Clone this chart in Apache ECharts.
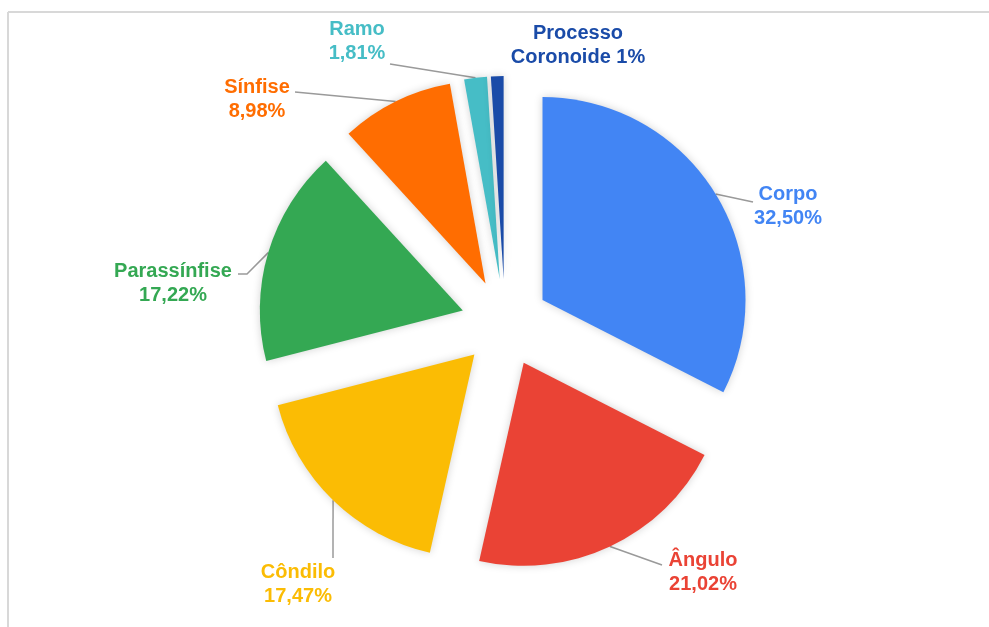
<!DOCTYPE html>
<html>
<head>
<meta charset="utf-8">
<script src="https://cdn.jsdelivr.net/npm/echarts@6/dist/echarts.min.js"></script>
<style>html,body{margin:0;padding:0;background:#fff}#c{width:989px;height:627px}</style>
</head>
<body>
<div id="c"></div>
<script>
// ---- data ----
const categories = ['Corpo', 'Ângulo', 'Côndilo', 'Parassínfise', 'Sínfise', 'Ramo', 'Processo Coronoide'];
const values = [32.50, 21.02, 17.47, 17.22, 8.98, 1.81, 1];

// ---- styles / layout ----
const colors = ['#4285F4', '#EA4335', '#FBBC04', '#34A853', '#FF6D01', '#46BDC6', '#1A4BA8'];
const CENTER = [505, 323];
const RADIUS = 203;
const EXPLODE = 44;
// label block centre, optional bend point and end of leader line
const labelPlace = [
  { x: 788, y: 206, pts: [[753, 202]] },
  { x: 703, y: 572, pts: [[662, 565]] },
  { x: 298, y: 584, pts: [[333, 558]] },
  { x: 173, y: 283, pts: [[247, 274], [238, 274]] },
  { x: 257, y: 99,  pts: [[295, 92]] },
  { x: 357, y: 41,  pts: [[390, 64]] },
  { x: 578, y: 45,  pts: null }
];

function fmtPct(v) {
  const s = (v === Math.round(v)) ? String(v) : v.toFixed(2).replace('.', ',');
  return s + '%';
}
function labelText(name, v) {
  const sp = name.indexOf(' ');
  if (sp > 0) return name.slice(0, sp) + '\n' + name.slice(sp + 1) + ' ' + fmtPct(v);
  return name + '\n' + fmtPct(v);
}

const total = values.reduce((a, b) => a + b, 0);
const mids = [];
let start = 90;
values.forEach(v => {
  const span = v / total * 360;
  mids.push(start - span / 2);
  start -= span;
});

const series = categories.map((cat, i) => {
  const rad = mids[i] * Math.PI / 180;
  const cx = CENTER[0] + EXPLODE * Math.cos(rad);
  const cy = CENTER[1] - EXPLODE * Math.sin(rad);
  const edge = [cx + RADIUS * Math.cos(rad), cy - RADIUS * Math.sin(rad)];
  return {
    type: 'pie',
    center: [cx, cy],
    radius: RADIUS,
    startAngle: 90,
    clockwise: true,
    avoidLabelOverlap: false,
    silent: true,
    animation: false,
    emphasis: { disabled: true },
    label: {
      position: 'outside',
      formatter: p => labelText(p.name, p.value),
      color: colors[i],
      fontSize: 20,
      fontWeight: 'bold',
      fontFamily: 'Liberation Sans, Arial, sans-serif',
      lineHeight: 24,
      align: 'center'
    },
    labelLine: { lineStyle: { color: '#9a9a9a', width: 1.5 }, smooth: false },
    labelLayout: p => {
      if (p.dataIndex !== i) return {};
      const lp = labelPlace[i];
      const out = { x: lp.x, y: lp.y, align: 'center', verticalAlign: 'middle' };
      if (lp.pts) {
        const p0 = edge;
        const pts = [p0].concat(lp.pts);
        while (pts.length < 3) pts.splice(1, 0, pts[1]);
        out.labelLinePoints = pts;
      }
      return out;
    },
    data: categories.map((name, j) => ({
      name: name,
      value: values[j],
      itemStyle: j === i
        ? { color: colors[j], shadowBlur: 8, shadowColor: 'rgba(0,0,0,0.18)' }
        : { color: 'rgba(0,0,0,0)' },
      label: { show: j === i },
      labelLine: { show: j === i && labelPlace[j].pts !== null }
    }))
  };
});

const chart = echarts.init(document.getElementById('c'), null, { renderer: 'canvas' });
chart.setOption({
  backgroundColor: '#ffffff',
  animation: false,
  graphic: [
    { type: 'line', silent: true, shape: { x1: 8, y1: 12, x2: 989, y2: 12 }, style: { stroke: '#d8d8d8', lineWidth: 2 } },
    { type: 'line', silent: true, shape: { x1: 8, y1: 12, x2: 8, y2: 627 }, style: { stroke: '#d8d8d8', lineWidth: 2 } }
  ],
  series: series
});
</script>
</body>
</html>
